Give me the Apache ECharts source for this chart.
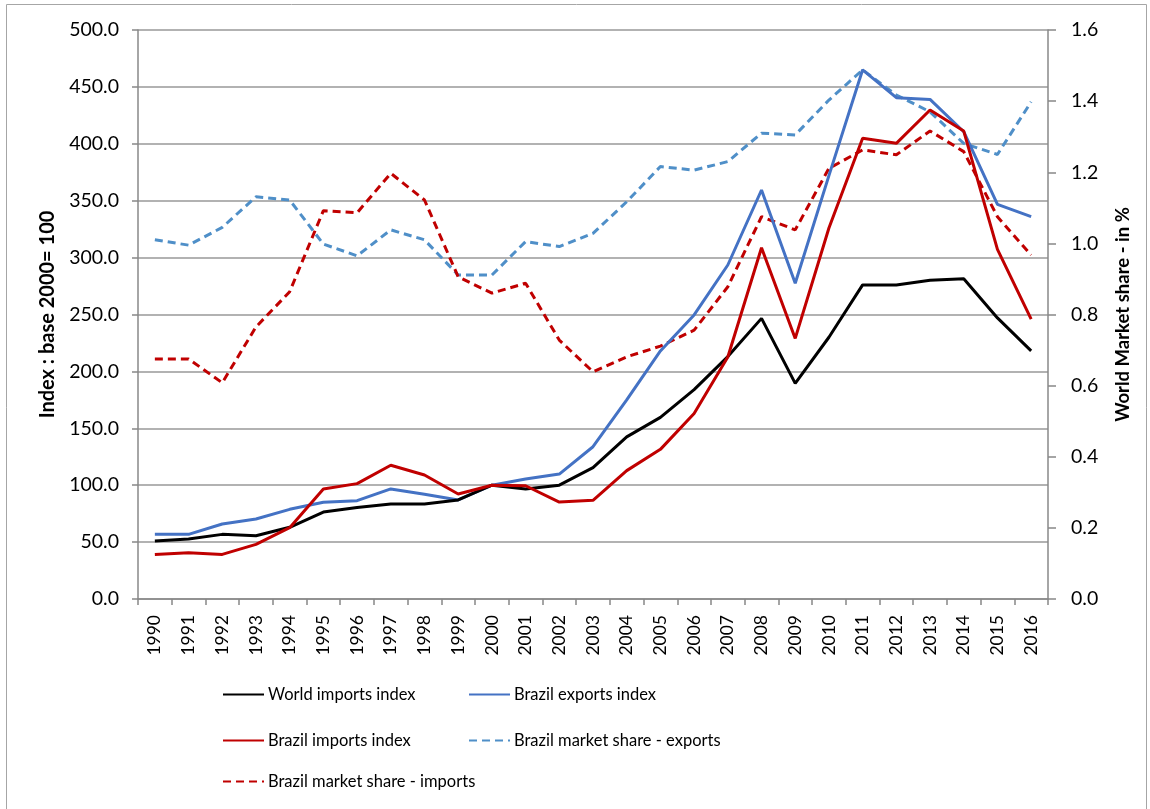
<!DOCTYPE html>
<html><head><meta charset="utf-8">
<script src="https://cdn.jsdelivr.net/npm/echarts@6/dist/echarts.min.js"></script>
<style>html,body{margin:0;padding:0;background:#fff}#c{width:1150px;height:809px}</style>
</head><body><div id="c"></div>
<script>
var years = ['1990','1991','1992','1993','1994','1995','1996','1997','1998','1999','2000','2001','2002','2003','2004','2005','2006','2007','2008','2009','2010','2011','2012','2013','2014','2015','2016'];
var worldImports = [51,52.7,56.8,55.6,63,76.4,80.5,83.5,83.5,87,100,96.7,100,115.5,142.5,159.6,184,213,246.6,189.5,230,276,276,280,281.5,247,218];
var brazilExports = [56.8,56.8,65.9,70.3,78.8,85,86.4,96.7,92,87,100,105.4,109.8,133.8,175,218,249.6,293.5,359.4,277.4,372,465,440.5,439,410.6,346.8,336];
var brazilImports = [39.2,40.7,39.2,48,62.7,96.7,101.4,117.5,109,92.3,100,99.5,85.2,86.7,112.8,131.5,163,212.6,308.7,229,326,404.8,400.4,429.7,411.2,307.3,246];
var shareExports = [1.01,0.995,1.045,1.131,1.122,0.998,0.965,1.038,1.01,0.911,0.911,1.005,0.991,1.028,1.117,1.216,1.206,1.23,1.31,1.305,1.403,1.488,1.417,1.37,1.281,1.25,1.398];
var shareImports = [0.675,0.675,0.608,0.765,0.864,1.092,1.086,1.197,1.122,0.906,0.86,0.888,0.728,0.639,0.681,0.711,0.756,0.878,1.075,1.038,1.211,1.263,1.249,1.316,1.258,1.075,0.967];
var leftTicks = [0,50,100,150,200,250,300,350,400,450,500];
var rightTicks = [0,0.2,0.4,0.6,0.8,1.0,1.2,1.4,1.6];

var FONT = 'Lato';
var chart = echarts.init(document.getElementById('c'), null, {renderer:'canvas'});
function mkSeries(name, data, color, dashed, yIdx, z){
  return {name:name, type:'line', data:data, yAxisIndex:yIdx, symbol:'none', showSymbol:false, z:z,
    lineStyle:{color:color, width:3, type: dashed ? [8,5] : 'solid'}, itemStyle:{color:color}};
}
function mkLegend(name, left, top){
  return {data:[name], left:left, top:top, itemWidth:41, itemHeight:14, itemGap:0,
    itemStyle:{opacity:0, borderWidth:0},
    textStyle:{fontFamily:FONT, fontSize:16.5, color:'#000', padding:[0,0,0,-1]}, padding:0};
}
chart.setOption({
  animation:false,
  backgroundColor:'#fff',
  textStyle:{fontFamily:FONT},
  grid:{left:138, right:102, top:30, bottom:210, containLabel:false},
  graphic:[{type:'rect', shape:{x:6.5,y:4.5,width:1140,height:812}, style:{fill:'none', stroke:'#a6a6a6', lineWidth:1}, silent:true}],
  xAxis:{type:'category', data:years, boundaryGap:true,
    axisLine:{lineStyle:{color:'#888', width:1.5}},
    axisTick:{show:true, interval:0, length:6, lineStyle:{color:'#888', width:1.5}},
    axisLabel:{rotate:90, interval:0, fontFamily:FONT, fontSize:17.5, color:'#000', margin:16}},
  yAxis:[
    {type:'value', min:0, max:500, interval:50, position:'left',
     name:'Index : base 2000= 100', nameLocation:'middle', nameGap:80, nameRotate:90,
     nameTextStyle:{fontFamily:FONT, fontSize:20, fontWeight:'bold', color:'#000'},
     axisLine:{show:true, lineStyle:{color:'#888', width:1.5}},
     axisTick:{show:true, length:6, lineStyle:{color:'#888', width:1.5}},
     splitLine:{show:true, lineStyle:{color:'#999', width:1.5}},
     axisLabel:{fontFamily:FONT, fontSize:19.5, color:'#000', margin:19, formatter:function(v){return v.toFixed(1);}}},
    {type:'value', min:0, max:1.6, interval:0.2, position:'right',
     name:'World Market share - in %', nameLocation:'middle', nameGap:66, nameRotate:90,
     nameTextStyle:{fontFamily:FONT, fontSize:18.5, fontWeight:'bold', color:'#000'},
     axisLine:{show:true, lineStyle:{color:'#888', width:1.5}},
     axisTick:{show:true, length:8, lineStyle:{color:'#888', width:1.5}},
     splitLine:{show:false},
     axisLabel:{fontFamily:FONT, fontSize:19.5, color:'#000', margin:23, formatter:function(v){return v.toFixed(1);}}}
  ],
  legend:[
    mkLegend('World imports index', 222, 686),
    mkLegend('Brazil exports index', 468, 686),
    mkLegend('Brazil imports index', 222, 732),
    mkLegend('Brazil market share - exports', 468, 732),
    mkLegend('Brazil market share - imports', 222, 773)
  ],
  series:[
    mkSeries('World imports index', worldImports, '#000000', false, 0, 5),
    mkSeries('Brazil exports index', brazilExports, '#4472C4', false, 0, 4),
    mkSeries('Brazil imports index', brazilImports, '#C00000', false, 0, 6),
    mkSeries('Brazil market share - exports', shareExports, '#4F8FC8', true, 1, 3),
    mkSeries('Brazil market share - imports', shareImports, '#C00000', true, 1, 3)
  ]
});
</script></body></html>
